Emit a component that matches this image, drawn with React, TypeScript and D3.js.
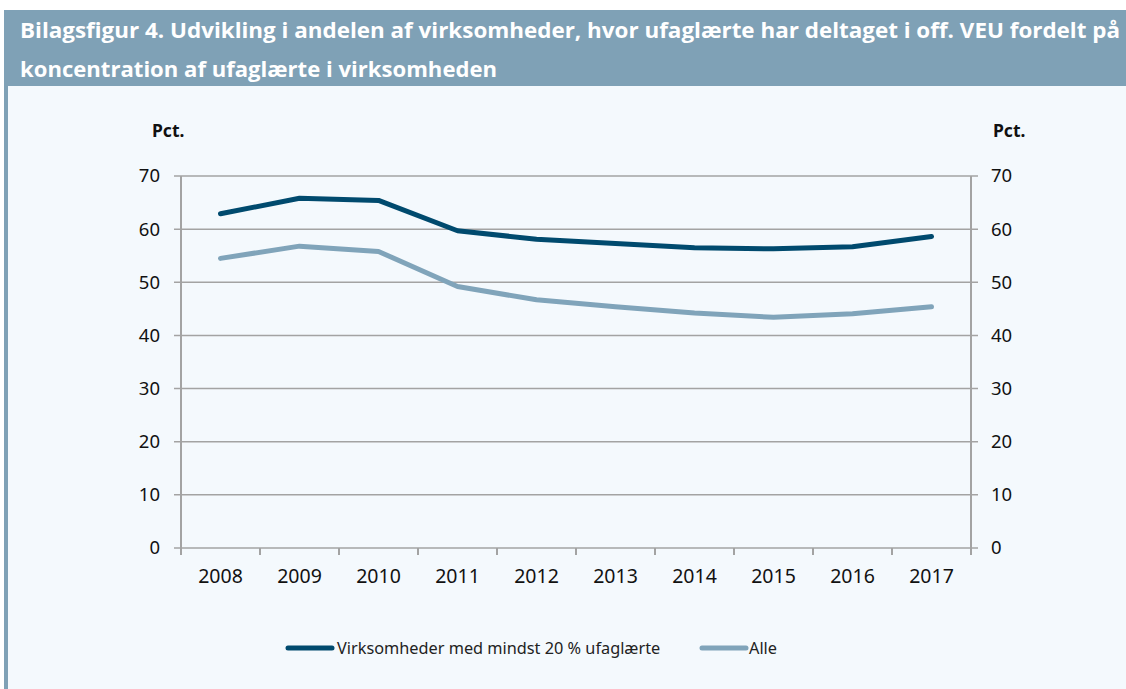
import React from "react";
import * as d3 from "d3";

const years = ["2008","2009","2010","2011","2012","2013","2014","2015","2016","2017"];
const seriesHigh = [62.9, 65.8, 65.4, 59.7, 58.1, 57.3, 56.5, 56.3, 56.7, 58.6];
const seriesAll = [54.5, 56.8, 55.8, 49.2, 46.7, 45.4, 44.2, 43.4, 44.1, 45.4];
const yTicks = [0, 10, 20, 30, 40, 50, 60, 70];
const legendLabels = ["Virksomheder med mindst 20 % ufaglærte", "Alle"];
const titleLines = [
  "Bilagsfigur 4. Udvikling i andelen af virksomheder, hvor ufaglærte har deltaget i off. VEU fordelt på",
  "koncentration af ufaglærte i virksomheden",
];
const titleWidths = [1100, 477];

const W = 1126, H = 689;
const DARK = "#004A6E";
const LIGHT = "#80A4BA";
const HEAD = "#7FA1B6";
const GRID = "#A3A3A3";

export default function App() {
  const x = d3.scaleBand<string>().domain(years).range([181, 971]);
  const y = d3.scaleLinear().domain([0, 70]).range([548, 176]);
  const line = d3.line<number>()
    .x((_, i) => (x(years[i]) as number) + x.bandwidth() / 2)
    .y((d) => y(d));
  const font = "'Noto Sans', 'Open Sans', sans-serif";
  return (
    <svg width={W} height={H} style={{ position: "absolute", left: 0, top: 0 }}>
      <rect x={0} y={0} width={W} height={H} fill="#fff" />
      <rect x={4} y={86} width={W - 4} height={H - 86} fill="#F4F9FD" />
      <rect x={4} y={86} width={4} height={H - 86} fill={HEAD} />
      <rect x={4} y={10} width={W - 4} height={76} fill={HEAD} />
      {titleLines.map((t, i) => (
        <text key={i} x={20} y={38 + i * 39} fill="#fff" fontFamily="'Open Sans', sans-serif"
          fontWeight={700} fontSize={21} textLength={titleWidths[i]} lengthAdjust="spacingAndGlyphs">{t}</text>
      ))}
      {yTicks.map((t) => (
        <line key={t} x1={174} x2={978} y1={y(t)} y2={y(t)} stroke={GRID} strokeWidth={1.5} />
      ))}
      <line x1={181} x2={181} y1={176} y2={555} stroke={GRID} strokeWidth={2} />
      <line x1={971} x2={971} y1={176} y2={555} stroke={GRID} strokeWidth={2} />
      {years.map((yr) => (
        <line key={yr} x1={x(yr)} x2={x(yr)} y1={548} y2={555} stroke={GRID} strokeWidth={2} />
      ))}
      {yTicks.map((t) => (
        <g key={"l" + t}>
          <text x={160} y={y(t)} dy="0.35em" textAnchor="end" fontFamily={font} fontSize={18.5} fill="#111">{t}</text>
          <text x={991} y={y(t)} dy="0.35em" textAnchor="start" fontFamily={font} fontSize={18.5} fill="#111">{t}</text>
        </g>
      ))}
      {years.map((yr) => (
        <text key={"x" + yr} x={(x(yr) as number) + x.bandwidth() / 2} y={583} textAnchor="middle"
          fontFamily={font} fontSize={19.5} fill="#111">{yr}</text>
      ))}
      <text x={152} y={137} fontFamily={font} fontWeight={700} fontSize={17.5} fill="#111">Pct.</text>
      <text x={993} y={137} fontFamily={font} fontWeight={700} fontSize={17.5} fill="#111">Pct.</text>
      <path d={line(seriesAll) as string} fill="none" stroke={LIGHT} strokeWidth={5} strokeLinecap="round" strokeLinejoin="round" />
      <path d={line(seriesHigh) as string} fill="none" stroke={DARK} strokeWidth={5} strokeLinecap="round" strokeLinejoin="round" />
      <line x1={288} x2={332} y1={648} y2={648} stroke={DARK} strokeWidth={5} strokeLinecap="round" />
      <text x={337} y={648} dy="0.35em" fontFamily={font} fontSize={16.3} fill="#222">{legendLabels[0]}</text>
      <line x1={702} x2={746} y1={648} y2={648} stroke={LIGHT} strokeWidth={5} strokeLinecap="round" />
      <text x={749} y={648} dy="0.35em" fontFamily={font} fontSize={16.3} fill="#222">{legendLabels[1]}</text>
    </svg>
  );
}
